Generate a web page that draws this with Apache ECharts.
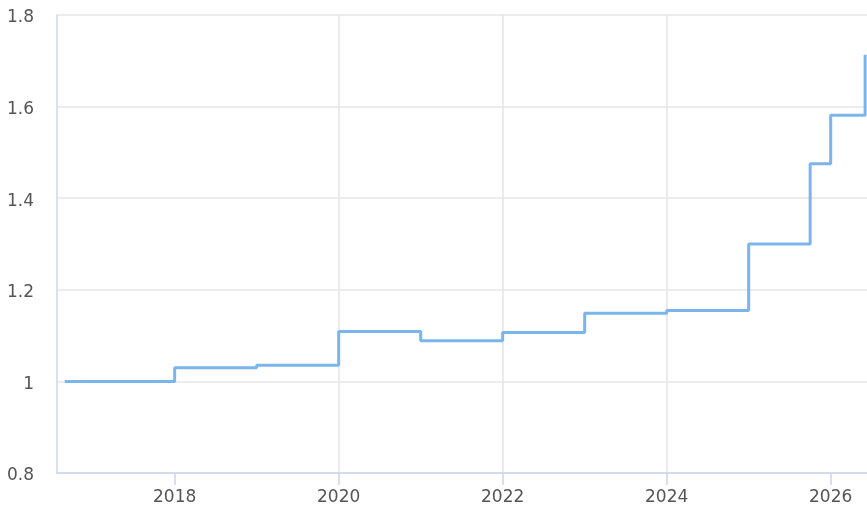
<!DOCTYPE html>
<html>
<head>
<meta charset="utf-8">
<script src="https://cdn.jsdelivr.net/npm/echarts@6/dist/echarts.min.js"></script>
<style>
  html, body { margin: 0; padding: 0; background: #fff; }
  #chart { width: 867px; height: 506px; }
</style>
</head>
<body>
<div id="chart"></div>
<script>
// Time (decimal year) at which each level begins, and the level itself
const stepYears = [2016.66, 2018.0, 2019.0, 2020.0, 2021.0, 2022.0, 2023.0, 2024.0, 2025.0, 2025.75, 2026.0, 2026.42];
const stepValues = [1.0, 1.03, 1.035, 1.109, 1.089, 1.107, 1.149, 1.155, 1.30, 1.475, 1.581, 1.713];

// Axis range and tick positions
const xRange = [2016.565, 2026.443];
const xTicks = [2018, 2020, 2022, 2024, 2026];
const yTicks = [0.8, 1.0, 1.2, 1.4, 1.6, 1.8];

const seriesData = stepYears.map((t, i) => [t, stepValues[i]]);

const axisColor = '#ccd6eb';
const gridColor = '#e6e6e6';
const labelColor = '#555';
const font = 'DejaVu Sans';

const chart = echarts.init(document.getElementById('chart'), null, { renderer: 'canvas' });
chart.setOption({
  animation: false,
  grid: { left: 57, right: 0, top: 15, bottom: 31, containLabel: false },
  xAxis: {
    type: 'value',
    min: xRange[0],
    max: xRange[1],
    axisLine: { show: true, lineStyle: { color: axisColor, width: 1.5 } },
    axisTick: {
      show: true, length: 12, inside: false,
      lineStyle: { color: axisColor, width: 1.5 },
      customValues: xTicks
    },
    axisLabel: {
      color: labelColor, fontSize: 17, fontFamily: font, margin: 16,
      customValues: xTicks,
      formatter: v => String(Math.round(v))
    },
    splitLine: {
      show: true,
      lineStyle: { color: gridColor, width: 1.6 },
      showMinLine: false, showMaxLine: false
    }
  },
  yAxis: {
    type: 'value',
    min: yTicks[0],
    max: yTicks[yTicks.length - 1],
    interval: 0.2,
    axisLine: { show: true, lineStyle: { color: axisColor, width: 1.5 } },
    axisTick: { show: false },
    axisLabel: {
      color: labelColor, fontSize: 17, fontFamily: font, margin: 23,
      verticalAlign: 'top',
      lineHeight: 20,
      padding: [-7, 0, 0, 0],
      formatter: v => String(+v.toFixed(1))
    },
    splitLine: { show: true, lineStyle: { color: gridColor, width: 1.6 } }
  },
  series: [{
    type: 'line',
    step: 'end',
    data: seriesData,
    symbol: 'none',
    lineStyle: { color: '#7cb5ec', width: 3 },
    clip: false
  }]
});
</script>
</body>
</html>
